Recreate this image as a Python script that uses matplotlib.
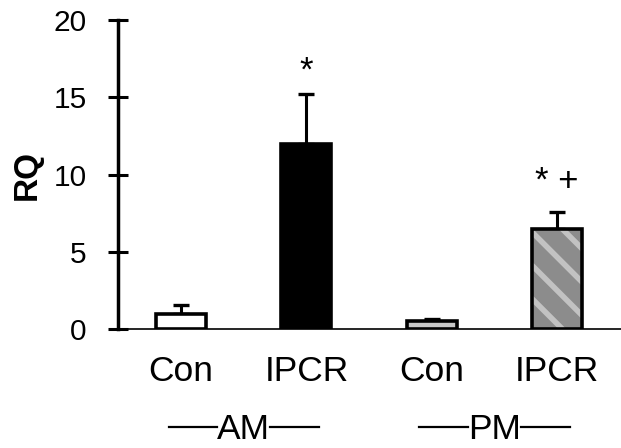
import matplotlib
matplotlib.use("Agg")
import matplotlib.pyplot as plt
import numpy as np

CATEGORIES = ["Con", "IPCR", "Con", "IPCR"]
MEANS = [1.0, 12.0, 0.5, 6.5]
ERR_UP = [0.55, 3.2, 0.15, 1.1]
GROUPS = ["AM", "PM"]
MARKS = ["", "*", "", "* +"]
Y_TICKS = [0, 5, 10, 15, 20]

FILL_COLORS = ["white", "black", "#c8c8c8", "#8c8c8c"]

plt.rcParams["font.family"] = ["Liberation Sans", "DejaVu Sans"]
plt.rcParams["hatch.linewidth"] = 4.0

fig = plt.figure(figsize=(6.21, 4.48), dpi=100)
ax = fig.add_axes([0.19, 0.2656, 0.81, 0.6897])

x = np.arange(len(CATEGORIES))
width = 0.4

# error bars go up only
ax.errorbar(x, MEANS, yerr=[np.zeros(len(MEANS)), ERR_UP], fmt="none",
            ecolor="black", elinewidth=2.2, capsize=6, capthick=2.4, zorder=1)

for i, (xi, m, c) in enumerate(zip(x, MEANS, FILL_COLORS)):
    if i == 3:
        hb = ax.bar(xi, m, width, color=c, edgecolor="#c2c2c2", hatch="\\",
                    linewidth=0, zorder=2)
        for p in hb:
            if hasattr(p, "set_hatch_linewidth"):
                p.set_hatch_linewidth(4.0)
        ax.bar(xi, m, width, fill=False, edgecolor="black", linewidth=2.6, zorder=3)
    else:
        ax.bar(xi, m, width, color=c, edgecolor="black", linewidth=2.6, zorder=2)

for xi, top, mark in zip(x, [m + e for m, e in zip(MEANS, ERR_UP)], MARKS):
    if mark:
        ax.text(xi, top + 0.85 + (0.0 if mark == "*" else 0.5), mark,
                ha="center", va="baseline", fontsize=25)

ax.set_xlim(-0.503, 3.51)
ax.set_ylim(0, 20)
ax.set_yticks(Y_TICKS)
ax.set_yticklabels([str(t) for t in Y_TICKS], fontsize=21.5)
ax.tick_params(axis="y", direction="inout", length=14, width=2.2, pad=15.5)
ax.set_xticks(x)
ax.set_xticklabels(CATEGORIES, fontsize=25.5)
ax.tick_params(axis="x", length=0, pad=19)

for side in ["top", "right"]:
    ax.spines[side].set_visible(False)
ax.spines["left"].set_linewidth(2.5)
ax.spines["bottom"].set_linewidth(1.2)

ax.set_ylabel("RQ", fontsize=24, fontweight="bold", labelpad=8)

# group labels with dashes
for g, name in enumerate(GROUPS):
    cx = 2 * g + 0.5
    ax.text(cx, -0.357, name, transform=ax.get_xaxis_transform(),
            ha="center", va="baseline", fontsize=25.5, clip_on=False)
    for s in (-1, 1):
        ax.plot([cx + s * 0.21, cx + s * 0.6], [-0.317, -0.317],
                transform=ax.get_xaxis_transform(), color="black",
                linewidth=1.6, clip_on=False)

fig.savefig("out.png", dpi=100)
